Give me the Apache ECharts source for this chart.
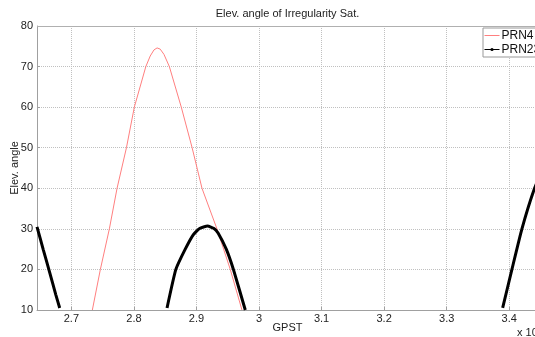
<!DOCTYPE html>
<html>
<head>
<meta charset="utf-8">
<script src="https://cdn.jsdelivr.net/npm/echarts@6/dist/echarts.min.js"></script>
<style>
  html, body { margin: 0; padding: 0; background: #fff; }
  #chart { width: 535px; height: 337px; }
</style>
</head>
<body>
<div id="chart"></div>
<script>
// values (GPST in units of 1e5)
const prn4 = [
  [2.7335, 10], [2.7463, 20], [2.7607, 30], [2.773, 40], [2.788, 50],
  [2.8006, 60], [2.819, 70], [2.826, 72.6], [2.832, 74.1], [2.837, 74.6],
  [2.842, 74.3], [2.848, 73.0], [2.8566, 70], [2.8757, 60], [2.893, 50],
  [2.9088, 40], [2.9327, 30], [2.954, 20], [2.9727, 10]
];
const prn23a = [
  [2.645, 30.5], [2.655, 24.9], [2.665, 19.4], [2.675, 13.8], [2.6813, 10.5]
];
const prn23b = [
  [2.8529, 10.5], [2.867, 20], [2.882, 25], [2.895, 28.6], [2.905, 30.1],
  [2.9177, 30.7], [2.928, 30.1], [2.9345, 29], [2.9476, 25], [2.959, 20],
  [2.978, 10]
];
const prn23c = [
  [3.3895, 10.5], [3.4043, 20], [3.4203, 30], [3.4405, 40], [3.46, 47]
];

const xMin = 2.645, xMax = 3.446;
const yMin = 10, yMax = 80;

const FONT = 'Liberation Sans, Arial, sans-serif';
const chart = echarts.init(document.getElementById('chart'));

const thick = { color: '#000', width: 3 };

const option = {
  animation: false,
  backgroundColor: '#fff',
  grid: {
    left: 37, right: -3, top: 26, bottom: 27, show: false,
    containLabel: false, outerBoundsMode: 'none'
  },
  graphic: [
    {
      type: 'text', x: 287.5, y: 14,
      style: { text: 'Elev. angle of Irregularity Sat.', font: '11px ' + FONT, fill: '#222', align: 'center', verticalAlign: 'middle' }
    },
    {
      type: 'text', x: 517, y: 333,
      style: { text: 'x 10', font: '11px ' + FONT, fill: '#222', align: 'left', verticalAlign: 'middle' }
    },
    // top border of the axes box
    {
      type: 'line', shape: { x1: 37, y1: 26.5, x2: 535, y2: 26.5 },
      style: { stroke: '#b0b0b0', lineWidth: 1 }, z: 5
    }
  ],
  legend: {
    orient: 'vertical',
    left: 483, top: 28, right: 'auto', bottom: 'auto',
    padding: [1, 8, 1, 1],
    itemGap: 1,
    itemWidth: 15, itemHeight: 4,
    backgroundColor: '#fff',
    borderColor: '#999', borderWidth: 1, borderRadius: 0,
    textStyle: { fontFamily: FONT, fontSize: 12, color: '#111', padding: [0, 0, 0, -3], lineHeight: 13 },
    data: [
      { name: 'PRN4', itemStyle: { color: 'rgba(0,0,0,0)', borderWidth: 0 }, lineStyle: { width: 1, color: '#ff7f7f' } },
      { name: 'PRN23', lineStyle: { width: 1 } }
    ]
  },
  xAxis: {
    type: 'value', min: xMin, max: xMax,
    minInterval: 0.1, maxInterval: 0.1, splitNumber: 8,
    name: 'GPST', nameLocation: 'middle', nameGap: 12, nameMoveOverlap: false,
    nameTextStyle: { fontFamily: FONT, fontSize: 11, color: '#222' },
    axisLine: { show: true, lineStyle: { color: '#a0a0a0', width: 1 } },
    axisTick: { show: true, inside: true, length: 3, lineStyle: { color: '#a0a0a0' } },
    axisLabel: {
      showMinLabel: false, showMaxLabel: false, margin: 3,
      fontFamily: FONT, fontSize: 11, color: '#222',
      formatter: v => (Math.round(v * 10) / 10).toString()
    },
    splitLine: { show: true, lineStyle: { color: '#c0c0c0', type: [1, 1], width: 1 } }
  },
  yAxis: {
    type: 'value', min: yMin, max: yMax, interval: 10,
    name: 'Elev. angle', nameLocation: 'middle', nameGap: 17, nameRotate: 90, nameMoveOverlap: false,
    nameTextStyle: { fontFamily: FONT, fontSize: 11, color: '#222' },
    axisLine: { show: true, lineStyle: { color: '#a0a0a0', width: 1 } },
    axisTick: { show: true, inside: true, length: 3, lineStyle: { color: '#a0a0a0' } },
    axisLabel: { margin: 4, fontFamily: FONT, fontSize: 11, color: '#222' },
    splitLine: { show: true, lineStyle: { color: '#c0c0c0', type: [1, 1], width: 1 } }
  },
  series: [
    {
      name: 'PRN4', type: 'line', data: prn4,
      showSymbol: false, symbol: 'none',
      lineStyle: { color: '#ff7f7f', width: 1 }, itemStyle: { color: '#ff7f7f' }
    },
    {
      name: 'PRN23', type: 'line', data: prn23a, smooth: 0.15,
      showSymbol: false, symbol: 'circle', symbolSize: 3,
      lineStyle: thick, itemStyle: { color: '#000' }
    },
    {
      name: 'PRN23', type: 'line', data: prn23b, smooth: 0.15,
      showSymbol: false, symbol: 'circle', symbolSize: 3,
      lineStyle: thick, itemStyle: { color: '#000' }
    },
    {
      name: 'PRN23', type: 'line', data: prn23c, smooth: 0.15,
      showSymbol: false, symbol: 'circle', symbolSize: 3,
      lineStyle: thick, itemStyle: { color: '#000' }
    }
  ]
};

chart.setOption(option);
</script>
</body>
</html>
